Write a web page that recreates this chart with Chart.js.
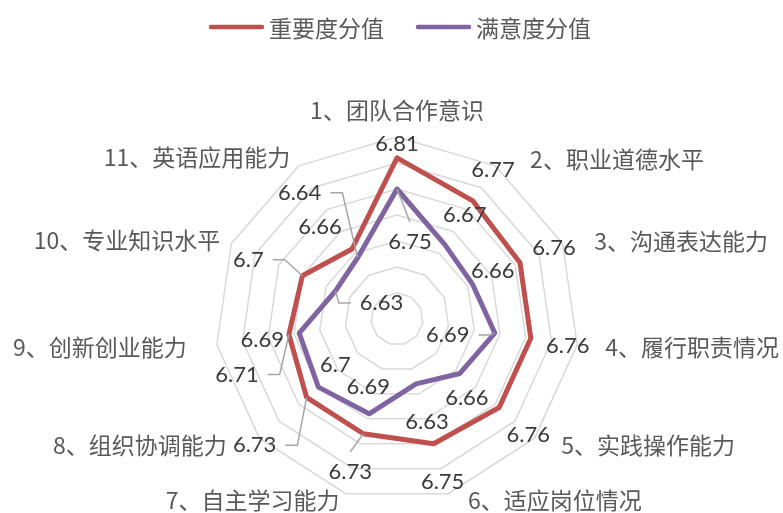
<!DOCTYPE html>
<html>
<head>
<meta charset="utf-8">
<title>能力重要度与满意度分值</title>
<script src="https://cdn.jsdelivr.net/npm/chart.js@4.4.1/dist/chart.umd.min.js"></script>
<style>
  html, body { margin: 0; padding: 0; background: #ffffff; }
  #wrap { position: relative; width: 783px; height: 513px; }
</style>
</head>
<body>
<div id="wrap"><canvas id="radar"></canvas></div>
<script>
// Ability items
const categories = [
  '1、团队合作意识', '2、职业道德水平', '3、沟通表达能力', '4、履行职责情况',
  '5、实践操作能力', '6、适应岗位情况', '7、自主学习能力', '8、组织协调能力',
  '9、创新创业能力', '10、专业知识水平', '11、英语应用能力'
];

// Series values
const importance   = [6.81, 6.77, 6.76, 6.76, 6.76, 6.75, 6.73, 6.73, 6.71, 6.70, 6.66];
const satisfaction = [6.75, 6.67, 6.66, 6.69, 6.66, 6.63, 6.69, 6.70, 6.69, 6.63, 6.64];

// Series names
const seriesNames = ['重要度分值', '满意度分值'];

// Radial axis range
const axisMin = 6.5;
const axisMax = 6.85;
const axisStep = 0.05;

// Value label placement: pixel offset from the point, and leader style ('' none, 'h' elbow, 'v' straight)
const importanceLabelPlace = [
  [0, -14, ''], [20, -31, ''], [34, -15, ''], [37, 8, ''], [29, 27, ''], [9, 38, ''],
  [-13, 38, 'v'], [-52, 48, 'h'], [-52, 40, 'h'], [-54, -16, 'h'], [-32, -22, '']
];
const satisfactionLabelPlace = [
  [13, 53, 'v'], [20, -30, ''], [20, -14, ''], [-47, 2, 'h'], [7, 24, ''], [11, 38, ''],
  [-1, -27, ''], [17, -22, ''], [-37, 7, ''], [46, 12, 'h'], [-58, -65, 'h']
];

// Category label offsets from the outer ring vertex
const categoryLabelOffset = [
  [0, -27], [121.6, -6.9], [118.5, -2.4], [114.9, 2.1], [113.5, 6.8], [106.7, 6.4],
  [-93.2, 6.4], [-119.5, 6.8], [-116.9, 2.1], [-104.5, -3.4], [-101.6, -8.9]
];

const RED = '#c0504d';
const PURPLE = '#8064a2';
const LABEL_FONT = '22px Lato, "Noto Sans CJK SC", sans-serif';
const CAT_FONT = '23px "Noto Sans CJK SC", sans-serif';

const labelPlugin = {
  id: 'radarLabels',
  afterDatasetsDraw(chart) {
    const ctx = chart.ctx;
    const scale = chart.scales.r;
    ctx.save();

    // category labels around the outer ring
    ctx.font = CAT_FONT;
    ctx.fillStyle = '#595959';
    ctx.textAlign = 'center';
    ctx.textBaseline = 'middle';
    categories.forEach((name, i) => {
      const p = scale.getPointPosition(i, scale.drawingArea);
      const o = categoryLabelOffset[i];
      ctx.fillText(name, p.x + o[0], p.y + o[1]);
    });

    // value labels with leader lines
    const places = [importanceLabelPlace, satisfactionLabelPlace];
    ctx.font = LABEL_FONT;
    chart.data.datasets.forEach((ds, d) => {
      const meta = chart.getDatasetMeta(d);
      meta.data.forEach((pt, i) => {
        const [dx, dy, leader] = places[d][i];
        const text = String(ds.data[i]);
        const lx = pt.x + dx;
        const ly = pt.y + dy;
        const w = ctx.measureText(text).width;
        if (leader) {
          ctx.beginPath();
          ctx.strokeStyle = '#a6a6a6';
          ctx.lineWidth = 1.5;
          ctx.moveTo(pt.x, pt.y);
          if (leader === 'h') {
            const side = dx < 0 ? 1 : -1;
            const ex = lx + side * (w / 2 + 9);
            ctx.lineTo(ex + side * 12, ly);
            ctx.lineTo(ex, ly);
          } else {
            const side = dy > 0 ? -1 : 1;
            ctx.lineTo(lx, ly + side * 20);
          }
          ctx.stroke();
        }
        ctx.fillStyle = '#3a3a3a';
        ctx.fillText(text, lx, ly);
      });
    });

    ctx.restore();
  },
  afterDraw(chart) {
    // legend row across the top
    const ctx = chart.ctx;
    ctx.save();
    ctx.font = CAT_FONT;
    ctx.textBaseline = 'middle';
    ctx.textAlign = 'left';
    const lineLen = 55, gapText = 5, gapItem = 32, y = 27;
    const items = chart.data.datasets.map(ds => ({
      label: ds.label, color: ds.borderColor, w: ctx.measureText(ds.label).width
    }));
    const total = items.reduce((s, it) => s + lineLen + gapText + it.w, 0) + gapItem * (items.length - 1);
    let x = 400 - total / 2;
    items.forEach(it => {
      ctx.beginPath();
      ctx.strokeStyle = it.color;
      ctx.lineWidth = 4.5;
      ctx.lineCap = 'round';
      ctx.moveTo(x + 2, y);
      ctx.lineTo(x + lineLen - 2, y);
      ctx.stroke();
      x += lineLen + gapText;
      ctx.fillStyle = '#595959';
      ctx.fillText(it.label, x, y + 1);
      x += it.w + gapItem;
    });
    ctx.restore();
  }
};

new Chart(document.getElementById('radar'), {
  type: 'radar',
  data: {
    labels: categories,
    datasets: [
      {
        label: seriesNames[0],
        data: importance,
        borderColor: RED,
        backgroundColor: RED,
        borderWidth: 5,
        borderJoinStyle: 'round',
        pointRadius: 0,
        pointHoverRadius: 0,
        fill: false
      },
      {
        label: seriesNames[1],
        data: satisfaction,
        borderColor: PURPLE,
        backgroundColor: PURPLE,
        borderWidth: 5,
        borderJoinStyle: 'round',
        pointRadius: 0,
        pointHoverRadius: 0,
        fill: false
      }
    ]
  },
  options: {
    responsive: true,
    maintainAspectRatio: false,
    animation: false,
    layout: { padding: { left: 215, right: 204, top: 137, bottom: 12 } },
    plugins: {
      legend: { display: false },
      tooltip: { enabled: false }
    },
    scales: {
      r: {
        min: axisMin,
        max: axisMax,
        ticks: { stepSize: axisStep, display: false },
        grid: { color: '#d9d9d9', lineWidth: 1.5, circular: false },
        angleLines: { display: false },
        pointLabels: { display: false }
      }
    }
  },
  plugins: [labelPlugin]
});
</script>
</body>
</html>
